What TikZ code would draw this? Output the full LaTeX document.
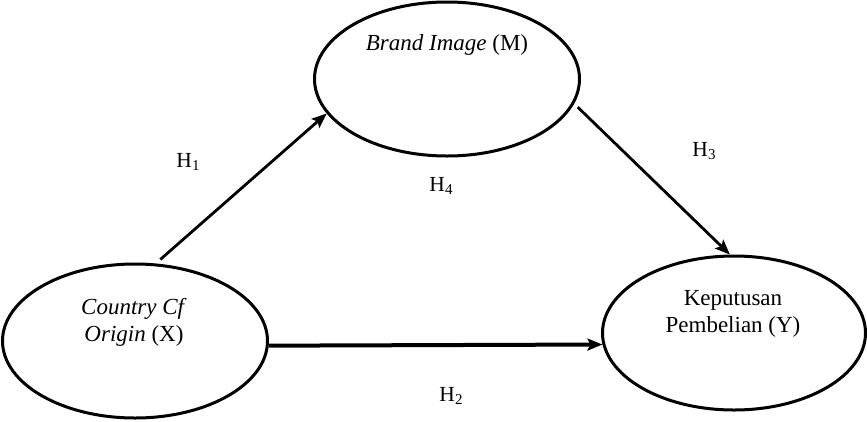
\documentclass[tikz,border=0pt]{standalone}
\usepackage{fontspec}
\setmainfont{Liberation Serif}
\usetikzlibrary{shapes.geometric,arrows.meta}
% hypothesis label: H with a lowered index
\newcommand{\hypsub}[1]{H\raisebox{-0.28ex}{\fontsize{15}{15}\selectfont #1}}
\begin{document}
\begin{tikzpicture}[x=1pt,y=-1pt,
  construct/.style={draw,ellipse,line width=3pt,inner sep=0pt,
    minimum width=265pt,minimum height=154pt},
  caption/.style={align=center,inner sep=0pt,
    font=\fontsize{23}{27}\selectfont},
  hyp/.style={inner sep=0pt,font=\fontsize{21.5}{24}\selectfont},
  link/.style={line width=2.8pt,-{Stealth[length=15pt,width=12pt,inset=3pt]}}]
\useasboundingbox (0,0) rectangle (867,421);

% latent constructs
\node[construct] (bi) at (447,79) {};
\node[construct] (co) at (135,341) {};
\node[construct,minimum width=263pt] (kp) at (734,333) {};

% construct names
\node[caption] (bit) at (447,45) {\textit{Brand Image} (M)};
\node[caption] (cot) at (134,322) {\textit{Country Cf}\\\textit{Origin} (X)};
\node[caption] (kpt) at (733,314) {Keputusan\\Pembelian (Y)};

% paths between constructs
\draw[link,shorten <=6pt] (co.75) -- (bi.196);
\draw[link,shorten <=5pt] (bi.349) -- (kp.93);
\draw[link,line width=4pt] (co.-2) -- (kp.185);

% hypothesis labels
\node[hyp] (h1) at (188,162) {\hypsub{1}};
\node[hyp] (h4) at (441,186) {\hypsub{4}};
\node[hyp] (h3) at (704,151) {\hypsub{3}};
\node[hyp] (h2) at (451,396) {\hypsub{2}};
\end{tikzpicture}
\end{document}
